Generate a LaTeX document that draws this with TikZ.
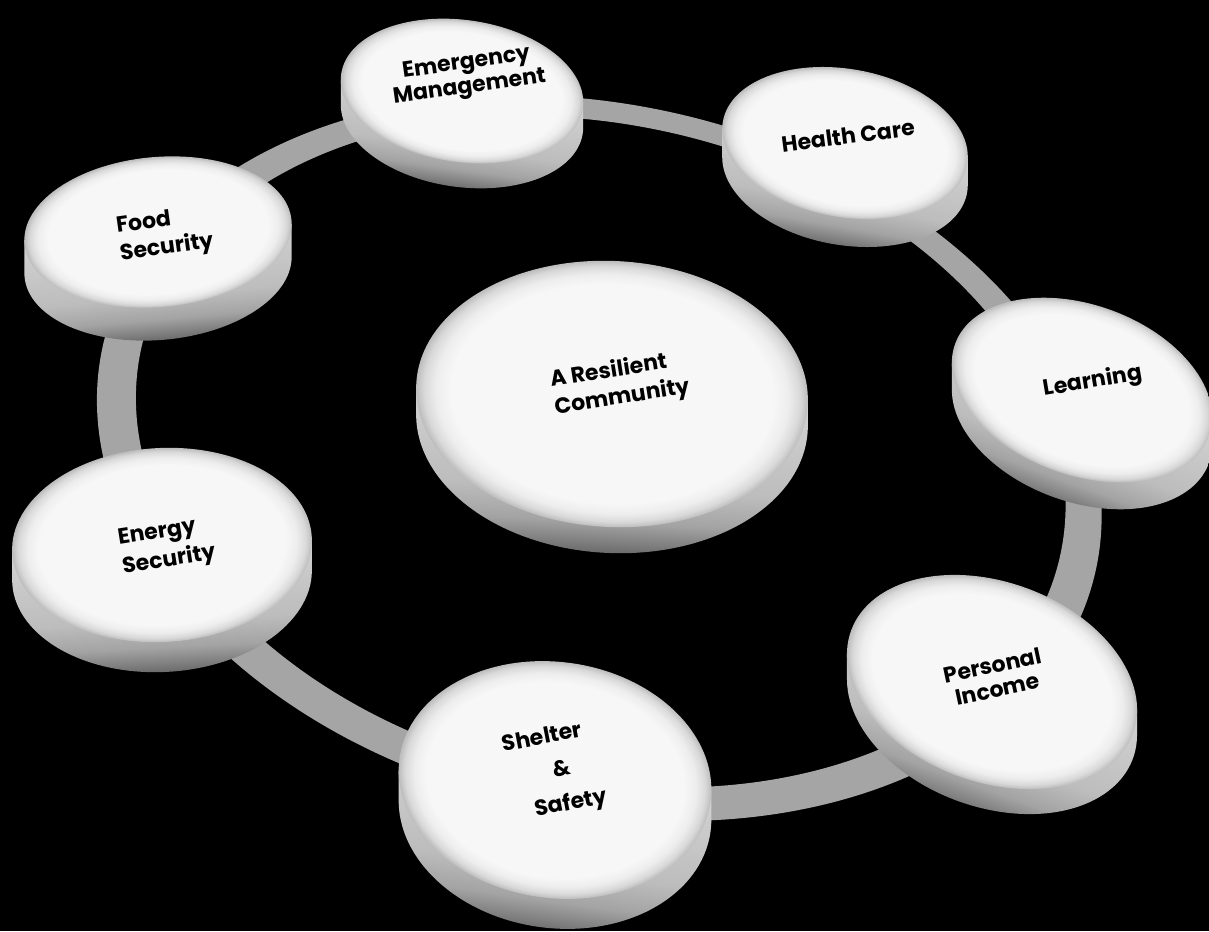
\documentclass[tikz,border=0pt]{standalone}
\usepackage{fontspec}
\setmainfont{Poppins}
\definecolor{ringc}{HTML}{A5A5A5}
\definecolor{topw}{gray}{0.97}
% path edge maps to 25bp (radial) and 25bp..75bp (vertical)
\pgfdeclareradialshading{ptop}{\pgfpoint{0bp}{0bp}}{color(0bp)=(topw); color(20.5bp)=(topw); color(22.5bp)=(black!7); color(24bp)=(black!15); color(25bp)=(black!26); color(50bp)=(black!26)}
\pgfdeclareverticalshading{pside}{100bp}{color(0bp)=(black!60); color(25bp)=(black!60); color(29bp)=(black!50); color(35bp)=(black!36); color(45bp)=(black!26); color(75bp)=(black!17); color(100bp)=(black!17)}
\newcommand\puckdraw[6]{%
  \pgfmathsetmacro\pkdx{#6*sin(#5)}%
  \pgfmathsetmacro\pkdy{#6*cos(#5)}%
  \pgfmathsetmacro\pkT{atan(-#4*tan(#5)/#3)}%
  \pgfmathsetmacro\pkax{#3*cos(\pkT)}%
  \pgfmathsetmacro\pkay{#4*sin(\pkT)}%
  \begin{scope}[transform canvas={shift={#2},rotate=-#5}]
    \shade[shading=pside] (\pkax,\pkay) -- ++(\pkdx,\pkdy)
      arc[start angle=\pkT, end angle=\pkT+180, x radius=#3, y radius=#4]
      -- (-\pkax,-\pkay) -- cycle;
    \shade[shading=ptop] (0,0) ellipse [x radius=#3, y radius=#4];
  \end{scope}}
\begin{document}
\begin{tikzpicture}[x=1pt,y=-1pt,
  lbl/.style={font=\fontsize{22}{26}\selectfont\bfseries, align=center, text=black, inner sep=0pt}]
\fill[black] (0,0) rectangle (1209,931);
\useasboundingbox (0,0) rectangle (1209,931);
% ring
\begin{scope}[shift={(600,455)}, rotate=-13]
  \fill[ringc, even odd rule] (0,3.25) ellipse [x radius=509, y radius=353.25]
                              (0,-3.25) ellipse [x radius=471, y radius=326.75];
\end{scope}
% pucks: center, a, b, rotation (clockwise), thickness
\puckdraw{em}{(462,91)}{122}{71}{8}{25}
\puckdraw{hc}{(845,143)}{124}{74}{10}{28}
\puckdraw{fs}{(158,232)}{134}{75}{-5}{33}
\puckdraw{ln}{(1082,390)}{135}{85}{20}{27}
\puckdraw{es}{(162,545)}{150}{97}{-3}{30}
\puckdraw{pi}{(992,682)}{150}{100}{20}{25}
\puckdraw{ss}{(555,780)}{157}{118}{8}{30}
\puckdraw{rc}{(612,394)}{196}{133}{3}{26}
% labels
\node[lbl, rotate=8, font=\fontsize{22}{24}\selectfont\bfseries] (tem) at (468,76) {Emergency\\Management};
\node[lbl, rotate=7.5] (thc) at (848,136) {Health Care};
\node[lbl, rotate=8, align=left, font=\fontsize{22}{28}\selectfont\bfseries] (tfs) at (165,235) {Food\\Security};
\node[lbl, rotate=9.5] (tln) at (1093,382) {Learning};
\node[lbl, rotate=9, align=left, font=\fontsize{22}{29}\selectfont\bfseries] (tes) at (167,547) {Energy\\Security};
\node[lbl, rotate=12, font=\fontsize{22}{24}\selectfont\bfseries] (tpi) at (995,677) {Personal\\Income};
\node[lbl, rotate=11, align=left, font=\fontsize{22}{35}\selectfont\bfseries] (tss) at (555,772) {Shelter\\\hspace*{2.05em}\&\\\hspace*{0.9em}Safety};
\node[lbl, rotate=9, align=left, font=\fontsize{22}{28}\selectfont\bfseries] (trc) at (620,384) {A Resilient\\Community};
\end{tikzpicture}
\end{document}
